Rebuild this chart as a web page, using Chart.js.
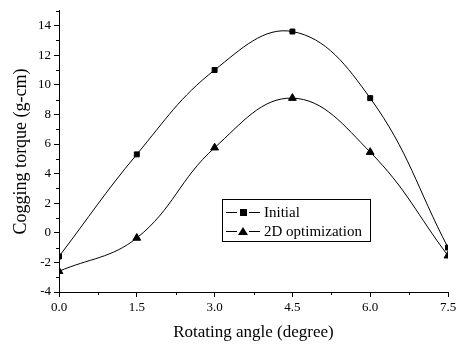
<!DOCTYPE html>
<html>
<head>
<meta charset="utf-8">
<title>Cogging torque</title>
<script src="https://cdn.jsdelivr.net/npm/chart.js@4.4.1/dist/chart.umd.min.js"></script>
<style>
  html, body { margin: 0; padding: 0; background: #fff; }
  #wrap { width: 457px; height: 347px; }
</style>
</head>
<body>
<div id="wrap"><canvas id="torqueChart" width="457" height="347"></canvas></div>
<script>
// Data
const angles = [0, 1.5, 3.0, 4.5, 6.0, 7.5];
const initialTorque = [-1.6, 5.3, 11.0, 13.6, 9.1, -1.0];
const optimizedTorque = [-2.6, -0.35, 5.75, 9.1, 5.45, -1.55];
const seriesLabels = ['Initial', '2D optimization'];

const serif = '"Liberation Serif", "Times New Roman", serif';

function toPoints(xs, ys) {
  return xs.map((x, i) => ({ x: x, y: ys[i] }));
}

// Short minor ticks between the labelled ones
const minorTicks = {
  id: 'minorTicks',
  afterDraw(chart) {
    const ctx = chart.ctx;
    const xs = chart.scales.x;
    const ys = chart.scales.y;
    ctx.save();
    ctx.strokeStyle = '#000';
    ctx.lineWidth = 1;
    ctx.beginPath();
    for (let v = 0.75; v < 7.5; v += 1.5) {
      const px = Math.round(xs.getPixelForValue(v)) + 0.5;
      ctx.moveTo(px, ys.bottom);
      ctx.lineTo(px, ys.bottom + 3);
    }
    for (let v = -3; v <= 15; v += 2) {
      const py = Math.round(ys.getPixelForValue(v)) + 0.5;
      ctx.moveTo(xs.left, py);
      ctx.lineTo(xs.left - 3, py);
    }
    ctx.stroke();
    ctx.restore();
  }
};

// Boxed legend inside the plot area
const boxLegend = {
  id: 'boxLegend',
  afterDraw(chart) {
    const ctx = chart.ctx;
    const left = 222, top = 199, w = 148, h = 42;
    ctx.save();
    ctx.fillStyle = '#fff';
    ctx.fillRect(left, top, w, h);
    ctx.strokeStyle = '#000';
    ctx.lineWidth = 1;
    ctx.strokeRect(left + 0.5, top + 0.5, w, h);
    ctx.font = '15px ' + serif;
    ctx.textBaseline = 'middle';
    chart.data.datasets.forEach((ds, i) => {
      const cy = top + 13 + i * 19;
      ctx.beginPath();
      ctx.moveTo(left + 4, cy + 0.5);
      ctx.lineTo(left + 38, cy + 0.5);
      ctx.strokeStyle = '#000';
      ctx.stroke();
      const mx = left + 21;
      ctx.fillStyle = '#fff';
      ctx.fillRect(mx - 6, cy - 5, 12, 11);
      ctx.fillStyle = '#000';
      if (ds.pointStyle === 'rect') {
        ctx.fillRect(mx - 3, cy - 3, 7, 7);
      } else {
        ctx.beginPath();
        ctx.moveTo(mx, cy - 4);
        ctx.lineTo(mx + 5, cy + 4);
        ctx.lineTo(mx - 5, cy + 4);
        ctx.closePath();
        ctx.fill();
      }
      ctx.fillText(ds.label, left + 42, cy + 1);
    });
    ctx.restore();
  }
};

new Chart(document.getElementById('torqueChart'), {
  type: 'line',
  data: {
    datasets: [
      {
        label: seriesLabels[0],
        data: toPoints(angles, initialTorque),
        borderColor: '#000',
        backgroundColor: '#000',
        borderWidth: 1,
        pointStyle: 'rect',
        pointRadius: 3.5,
        tension: 0.4,
        fill: false
      },
      {
        label: seriesLabels[1],
        data: toPoints(angles, optimizedTorque),
        borderColor: '#000',
        backgroundColor: '#000',
        borderWidth: 1,
        pointStyle: 'triangle',
        pointRadius: 4.5,
        tension: 0.4,
        fill: false
      }
    ]
  },
  options: {
    responsive: false,
    animation: false,
    layout: { padding: { top: 6, right: 9, left: 0, bottom: 0 } },
    plugins: {
      legend: { display: false },
      tooltip: { enabled: false }
    },
    scales: {
      x: {
        type: 'linear',
        min: 0,
        max: 7.5,
        afterFit: axis => { axis.height = 55; axis.paddingRight = 0; axis.paddingLeft = 0; },
        border: { color: '#000', width: 1 },
        grid: { drawOnChartArea: false, color: '#000', tickLength: 5 },
        ticks: {
          stepSize: 1.5,
          color: '#000',
          padding: 3,
          font: { family: serif, size: 13 },
          callback: v => Number(v).toFixed(1)
        },
        title: {
          display: true,
          text: 'Rotating angle (degree)',
          color: '#000',
          font: { family: serif, size: 17 },
          padding: { top: 4 }
        }
      },
      y: {
        min: -4,
        max: 15,
        afterFit: axis => { axis.width = 59; },
        afterBuildTicks: axis => { axis.ticks = axis.ticks.filter(t => t.value <= 14); },
        border: { color: '#000', width: 1 },
        grid: { drawOnChartArea: false, color: '#000', tickLength: 5 },
        ticks: {
          stepSize: 2,
          color: '#000',
          padding: 3,
          font: { family: serif, size: 13 }
        },
        title: {
          display: true,
          text: 'Cogging torque (g-cm)',
          color: '#000',
          font: { family: serif, size: 18 },
          padding: { bottom: 0, top: 10 }
        }
      }
    }
  },
  plugins: [minorTicks, boxLegend]
});
</script>
</body>
</html>
